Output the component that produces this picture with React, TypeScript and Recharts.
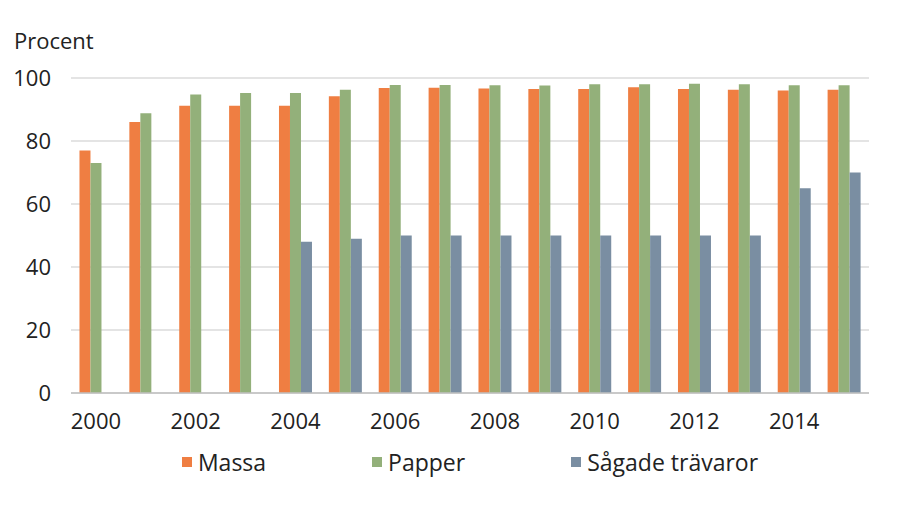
import React from 'react';
import { BarChart, Bar, XAxis, YAxis, CartesianGrid, Legend } from 'recharts';

const years = ['2000','2001','2002','2003','2004','2005','2006','2007','2008','2009','2010','2011','2012','2013','2014','2015'];
const massa = [77, 86, 91.2, 91.2, 91.2, 94.2, 96.8, 96.9, 96.7, 96.5, 96.5, 97.1, 96.5, 96.3, 96.0, 96.3];
const papper = [73, 88.8, 94.8, 95.2, 95.2, 96.3, 97.8, 97.8, 97.7, 97.6, 98.0, 98.0, 98.2, 98.0, 97.7, 97.7];
const sagade: (number | null)[] = [null, null, null, null, 48, 49, 50, 50, 50, 50, 50, 50, 50, 50, 65, 70];
const yTicks = [0, 20, 40, 60, 80, 100];

const data = years.map((y, i) => ({ year: y, Massa: massa[i], Papper: papper[i], 'Sågade trävaror': sagade[i] }));

const FONT = '"Open Sans", sans-serif';
const COLORS = { Massa: '#EF7E42', Papper: '#93B07A', 'Sågade trävaror': '#7A8EA2' };

const renderLegend = (props: any) => {
  const { payload } = props;
  return (
    <div style={{ display: 'flex', justifyContent: 'center', gap: 106, fontFamily: FONT, fontSize: 23, color: '#222', lineHeight: '30px' }}>
      {payload.map((p: any) => (
        <div key={p.value} style={{ display: 'flex', alignItems: 'center' }}>
          <span style={{ display: 'inline-block', width: 10, height: 10, background: p.color, marginRight: 6 }} />
          <span>{p.value}</span>
        </div>
      ))}
    </div>
  );
};

export default function App() {
  return (
    <div style={{ position: 'absolute', left: 0, top: 0, width: 901, height: 507, background: '#fff' }}>
      <div style={{ position: 'absolute', left: 14, top: 25, fontFamily: FONT, fontSize: 22, color: '#222', lineHeight: '30px' }}>Procent</div>
      <BarChart
        width={901}
        height={507}
        data={data}
        margin={{ top: 78, right: 32, left: 11, bottom: 84 }}
        barCategoryGap="17%"
        barGap={0}
      >
        <CartesianGrid vertical={false} stroke="#c9c9c9" strokeWidth={1} />
        <XAxis
          dataKey="year"
          interval={1}
          height={30}
          tickLine={false}
          tickSize={0}
          tickMargin={20}
          axisLine={{ stroke: '#c0c0c0', strokeWidth: 1.5 }}
          tick={{ fontFamily: FONT, fontSize: 22, fill: '#222' }}
        />
        <YAxis
          domain={[0, 100]}
          ticks={yTicks}
          width={60}
          axisLine={false}
          tickLine={false}
          tickSize={0}
          tickMargin={20}
          tick={{ fontFamily: FONT, fontSize: 22, fill: '#222' }}
        />
        <Legend
          layout="horizontal"
          verticalAlign="middle"
          align="center"
          content={renderLegend}
          wrapperStyle={{ top: 447, left: 71, width: 798 }}
        />
        <Bar dataKey="Massa" fill={COLORS.Massa} isAnimationActive={false} />
        <Bar dataKey="Papper" fill={COLORS.Papper} isAnimationActive={false} />
        <Bar dataKey="Sågade trävaror" fill={COLORS['Sågade trävaror']} isAnimationActive={false} />
      </BarChart>
    </div>
  );
}
